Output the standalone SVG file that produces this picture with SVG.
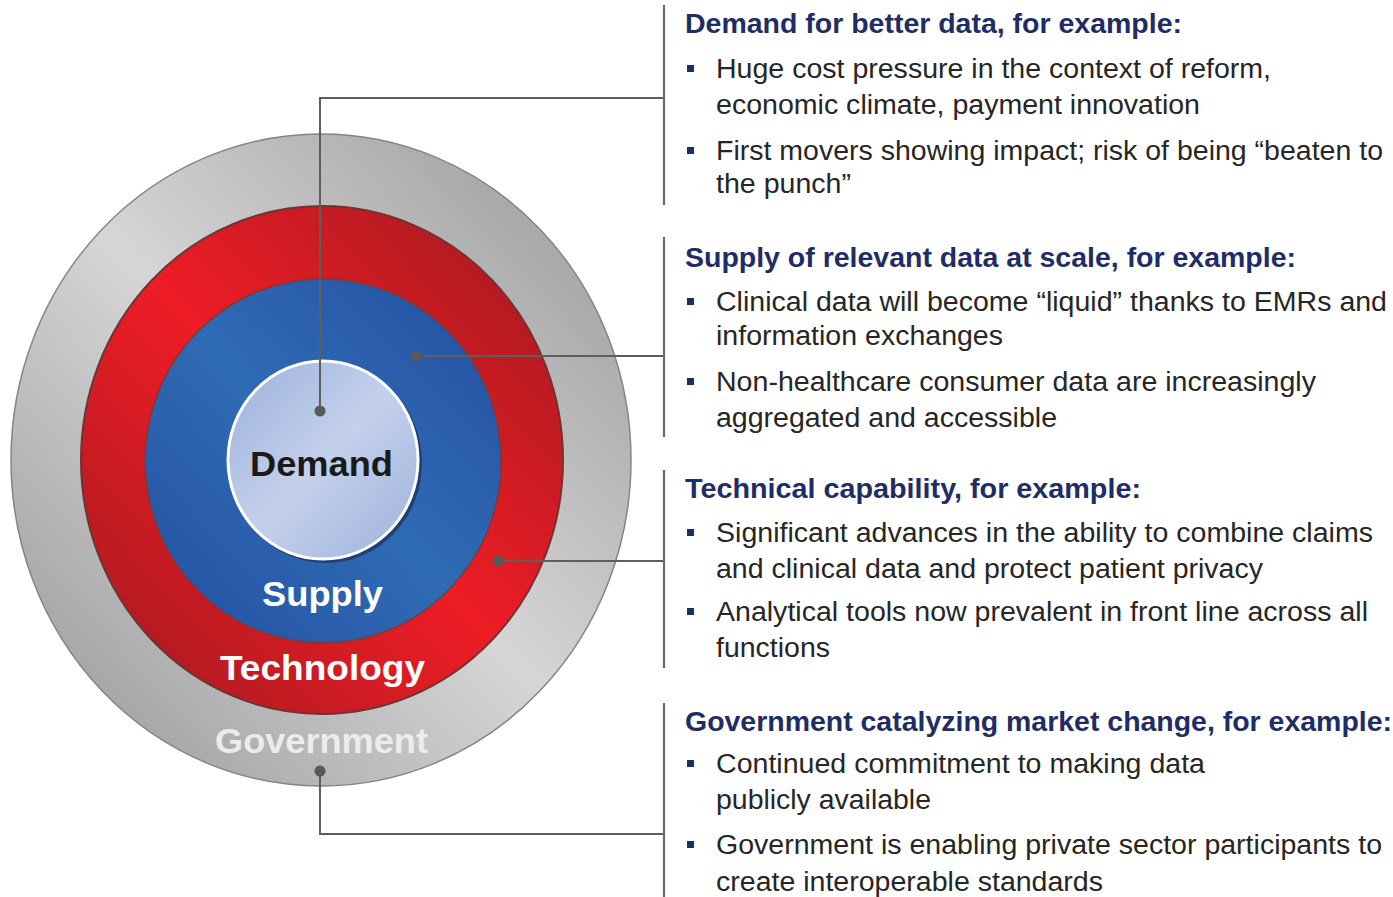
<svg xmlns="http://www.w3.org/2000/svg" width="1393" height="897" viewBox="0 0 1393 897">
<defs>
<linearGradient id="gGray" x1="1" y1="0" x2="0" y2="1">
<stop offset="0" stop-color="#969696"/><stop offset="0.5" stop-color="#d6d6d6"/><stop offset="1" stop-color="#959595"/>
</linearGradient>
<linearGradient id="gRed" x1="1" y1="0" x2="0" y2="1">
<stop offset="0" stop-color="#9e1a20"/><stop offset="0.5" stop-color="#ee1c25"/><stop offset="1" stop-color="#a11a20"/>
</linearGradient>
<linearGradient id="gBlue" x1="1" y1="0" x2="0" y2="1">
<stop offset="0" stop-color="#244ea1"/><stop offset="0.5" stop-color="#2f6bb4"/><stop offset="1" stop-color="#244ea1"/>
</linearGradient>
<linearGradient id="gLight" x1="0" y1="0" x2="1" y2="1">
<stop offset="0" stop-color="#9bb0db"/><stop offset="0.5" stop-color="#c4d1ec"/><stop offset="1" stop-color="#9db1db"/>
</linearGradient>
<style>
.ring-label{font-family:"Liberation Sans",Arial,sans-serif;font-weight:bold;font-size:35px;text-anchor:start}
.head{font-family:"Liberation Sans Narrow","Liberation Sans",Arial,sans-serif;font-weight:bold;font-size:28px;fill:#1f2d66}
.body{font-family:"Liberation Sans Narrow","Liberation Sans",Arial,sans-serif;font-size:27px;fill:#262626}
.bullet{fill:#1f2d66}
.conn{fill:none;stroke:#5e5e5e;stroke-width:2}
.bracket{fill:none;stroke:#6a6a6a;stroke-width:2.2}
.dot{fill:#595959}
</style>
</defs>

<g id="government-ring">
<ellipse cx="321" cy="460" rx="310" ry="326" fill="url(#gGray)" stroke="#858585" stroke-width="1.5"/>
</g>
<g id="technology-ring">
<ellipse cx="322" cy="460" rx="241" ry="254" fill="url(#gRed)" stroke="#6e3434" stroke-width="2"/>
</g>
<g id="supply-ring">
<ellipse cx="323" cy="461" rx="178" ry="182" fill="url(#gBlue)" stroke="#7a3b3b" stroke-width="1.5"/>
</g>
<g id="demand-core">
<ellipse cx="326" cy="463" rx="96" ry="100" fill="#1c2f5e" opacity="0.7"/>
<ellipse cx="323" cy="460" rx="95" ry="99" fill="url(#gLight)" stroke="#ffffff" stroke-width="3"/>
</g>

<g id="ring-labels">
<text class="ring-label" x="250" y="476" textLength="143" lengthAdjust="spacingAndGlyphs" fill="#1a1a1a">Demand</text>
<text class="ring-label" x="262" y="606" textLength="121" lengthAdjust="spacingAndGlyphs" fill="#ffffff">Supply</text>
<text class="ring-label" x="220" y="680" textLength="205" lengthAdjust="spacingAndGlyphs" fill="#ffffff">Technology</text>
<text class="ring-label" x="215" y="753" textLength="213" lengthAdjust="spacingAndGlyphs" fill="#ececec">Government</text>
</g>

<g id="connectors">
<polyline class="conn" points="320,411 320,98 664,98"/>
<polyline class="conn" points="416,356 664,356"/>
<polyline class="conn" points="498,561 664,561"/>
<polyline class="conn" points="320,771 320,834 664,834"/>
<circle class="dot" cx="320" cy="411" r="5.5"/>
<circle class="dot" cx="416" cy="356" r="5.5"/>
<circle class="dot" cx="498" cy="561" r="5.5"/>
<circle class="dot" cx="320" cy="771" r="5.5"/>
<line class="bracket" x1="664" y1="5" x2="664" y2="205"/>
<line class="bracket" x1="664" y1="237" x2="664" y2="437"/>
<line class="bracket" x1="664" y1="470" x2="664" y2="668"/>
<line class="bracket" x1="664" y1="703" x2="664" y2="897"/>
</g>

<g id="demand-text">
<text class="head" x="685" y="33" textLength="497" lengthAdjust="spacingAndGlyphs">Demand for better data, for example:</text>
<rect class="bullet" x="687" y="65" width="7" height="7"/>
<text class="body" x="716" y="78" textLength="555" lengthAdjust="spacingAndGlyphs">Huge cost pressure in the context of reform,</text>
<text class="body" x="716" y="114" textLength="484" lengthAdjust="spacingAndGlyphs">economic climate, payment innovation</text>
<rect class="bullet" x="687" y="147" width="7" height="7"/>
<text class="body" x="716" y="160" textLength="667" lengthAdjust="spacingAndGlyphs">First movers showing impact; risk of being “beaten to</text>
<text class="body" x="716" y="193" textLength="135" lengthAdjust="spacingAndGlyphs">the punch”</text>
</g>

<g id="supply-text">
<text class="head" x="685" y="267" textLength="611" lengthAdjust="spacingAndGlyphs">Supply of relevant data at scale, for example:</text>
<rect class="bullet" x="687" y="298" width="7" height="7"/>
<text class="body" x="716" y="311" textLength="671" lengthAdjust="spacingAndGlyphs">Clinical data will become “liquid” thanks to EMRs and</text>
<text class="body" x="716" y="345" textLength="287" lengthAdjust="spacingAndGlyphs">information exchanges</text>
<rect class="bullet" x="687" y="378" width="7" height="7"/>
<text class="body" x="716" y="391" textLength="600" lengthAdjust="spacingAndGlyphs">Non-healthcare consumer data are increasingly</text>
<text class="body" x="716" y="427" textLength="341" lengthAdjust="spacingAndGlyphs">aggregated and accessible</text>
</g>

<g id="technology-text">
<text class="head" x="685" y="498" textLength="456" lengthAdjust="spacingAndGlyphs">Technical capability, for example:</text>
<rect class="bullet" x="687" y="529" width="7" height="7"/>
<text class="body" x="716" y="542" textLength="657" lengthAdjust="spacingAndGlyphs">Significant advances in the ability to combine claims</text>
<text class="body" x="716" y="578" textLength="547" lengthAdjust="spacingAndGlyphs">and clinical data and protect patient privacy</text>
<rect class="bullet" x="687" y="608" width="7" height="7"/>
<text class="body" x="716" y="621" textLength="652" lengthAdjust="spacingAndGlyphs">Analytical tools now prevalent in front line across all</text>
<text class="body" x="716" y="657" textLength="114" lengthAdjust="spacingAndGlyphs">functions</text>
</g>

<g id="government-text">
<text class="head" x="685" y="731" textLength="707" lengthAdjust="spacingAndGlyphs">Government catalyzing market change, for example:</text>
<rect class="bullet" x="687" y="760" width="7" height="7"/>
<text class="body" x="716" y="773" textLength="489" lengthAdjust="spacingAndGlyphs">Continued commitment to making data</text>
<text class="body" x="716" y="809" textLength="215" lengthAdjust="spacingAndGlyphs">publicly available</text>
<rect class="bullet" x="687" y="841" width="7" height="7"/>
<text class="body" x="716" y="854" textLength="666" lengthAdjust="spacingAndGlyphs">Government is enabling private sector participants to</text>
<text class="body" x="716" y="891" textLength="387" lengthAdjust="spacingAndGlyphs">create interoperable standards</text>
</g>
</svg>
